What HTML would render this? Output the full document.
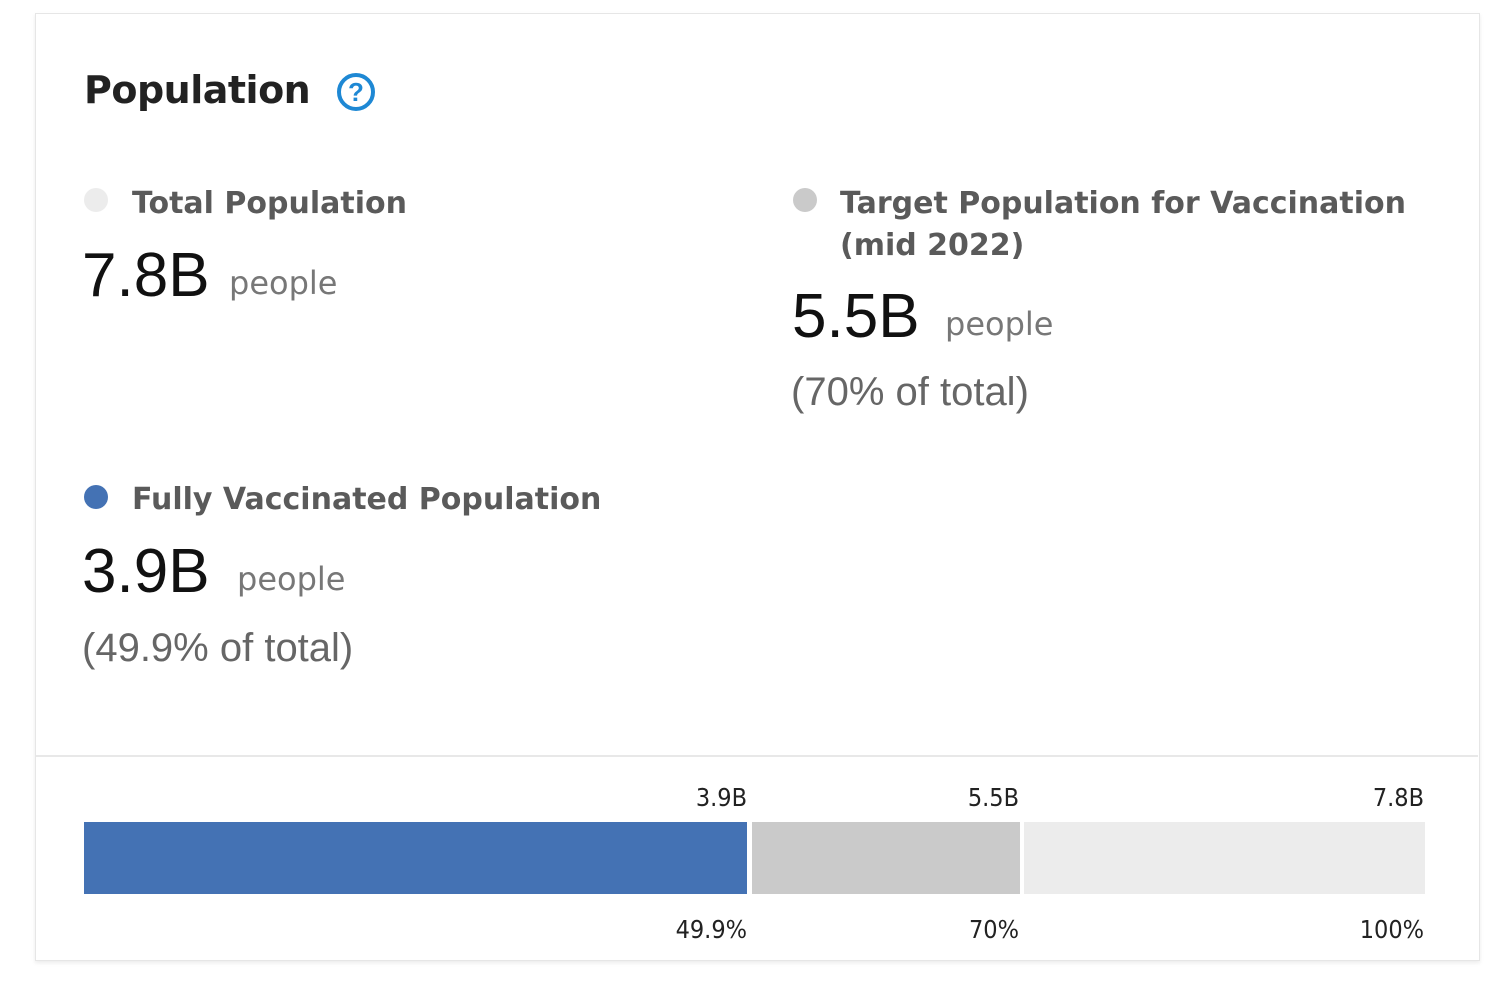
<!DOCTYPE html>
<html><head><meta charset="utf-8"><style>
body{margin:0;width:1512px;height:990px;background:#fff;font-family:"Liberation Sans","DejaVu Sans",sans-serif;position:relative;overflow:hidden}
.card{position:absolute;left:35px;top:13px;width:1443px;height:946px;border:1px solid #e6e6e6;box-shadow:0 2px 4px rgba(0,0,0,0.08);background:#fff}
.a{position:absolute;white-space:nowrap}
.t{font-size:38px;font-weight:bold;color:#222;font-family:"DejaVu Sans",sans-serif;letter-spacing:-0.5px}
.l{font-size:30px;font-weight:bold;color:#5a5a5a;font-family:"DejaVu Sans",sans-serif;letter-spacing:0px}
.n{font-size:62px;color:#111}
.p{font-size:32px;color:#777;font-family:"DejaVu Sans",sans-serif}
.pc{font-size:40px;color:#666}
.dot{position:absolute;width:24px;height:24px;border-radius:50%}
.s{font-size:25px;color:#222;font-family:"DejaVu Sans Condensed","DejaVu Sans",sans-serif;letter-spacing:0px}
</style></head><body>
<div class="card"></div>
<div class="a t" style="left:84px;top:68px">Population</div>
<div class="a" style="left:337px;top:73px;width:38px;height:38px;border:4px solid #1e88d4;border-radius:50%;box-sizing:border-box;color:#1e88d4;font-weight:bold;font-size:26px;text-align:center;line-height:31px">?</div>

<div class="dot" style="left:84px;top:188px;background:#ececec"></div>
<div class="a l" style="left:132px;top:186px">Total Population</div>
<div class="a n" style="left:82px;top:240px">7.8B</div>
<div class="a p" style="left:229px;top:264px">people</div>

<div class="dot" style="left:793px;top:188px;background:#cacaca"></div>
<div class="a l" style="left:840px;top:186px">Target Population for Vaccination</div>
<div class="a l" style="left:840px;top:228px">(mid 2022)</div>
<div class="a n" style="left:792px;top:281px">5.5B</div>
<div class="a p" style="left:945px;top:305px">people</div>
<div class="a pc" style="left:791px;top:370px">(70% of total)</div>

<div class="dot" style="left:84px;top:485px;background:#4472b4"></div>
<div class="a l" style="left:132px;top:482px">Fully Vaccinated Population</div>
<div class="a n" style="left:82px;top:536px">3.9B</div>
<div class="a p" style="left:237px;top:560px">people</div>
<div class="a pc" style="left:82px;top:626px">(49.9% of total)</div>

<div class="a" style="left:36px;top:755px;width:1442px;height:2px;background:#e8e8e8"></div>

<div class="a s" style="right:765px;top:783px">3.9B</div>
<div class="a s" style="right:493px;top:783px">5.5B</div>
<div class="a s" style="right:88px;top:783px">7.8B</div>
<div class="a" style="left:84px;top:822px;width:663px;height:72px;background:#4472b4"></div>
<div class="a" style="left:752px;top:822px;width:268px;height:72px;background:#cacaca"></div>
<div class="a" style="left:1024px;top:822px;width:401px;height:72px;background:#ececec"></div>
<div class="a s" style="right:765px;top:915px">49.9%</div>
<div class="a s" style="right:493px;top:915px">70%</div>
<div class="a s" style="right:88px;top:915px">100%</div>
</body></html>
